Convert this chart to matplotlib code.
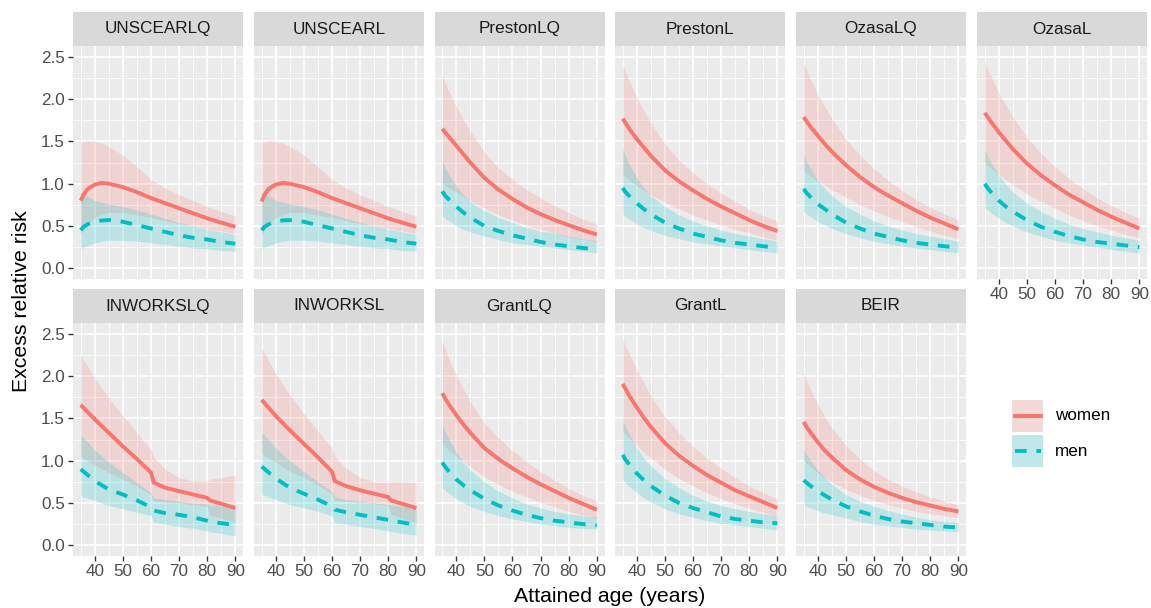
import matplotlib
matplotlib.use("Agg")
import matplotlib.pyplot as plt
from matplotlib.patches import Rectangle

plt.rcParams["font.family"] = ["Liberation Sans", "DejaVu Sans"]

# attained-age grids (INWORKS has steps at 60 and 80)
AGES = [35, 36, 37.5, 40, 42.5, 45, 50, 55, 60, 65, 70, 75, 80, 85, 90]
AGES_INWORKS = [35, 40, 45, 50, 55, 60, 61, 65, 70, 75, 80, 81, 85, 90]

MODELS = ["UNSCEARLQ", "UNSCEARL", "PrestonLQ", "PrestonL", "OzasaLQ", "OzasaL",
          "INWORKSLQ", "INWORKSL", "GrantLQ", "GrantL", "BEIR"]

WOMEN_FIT = {
    "UNSCEARLQ": [0.80, 0.87, 0.94, 0.99, 1.01, 1.00, 0.96, 0.90, 0.83, 0.77, 0.71, 0.65, 0.59, 0.54, 0.49],
    "UNSCEARL":  [0.79, 0.87, 0.94, 0.99, 1.01, 1.00, 0.96, 0.90, 0.83, 0.77, 0.71, 0.65, 0.59, 0.54, 0.49],
    "PrestonLQ": [1.65, 1.61, 1.55, 1.45, 1.35, 1.25, 1.07, 0.93, 0.82, 0.72, 0.64, 0.57, 0.51, 0.45, 0.40],
    "PrestonL":  [1.77, 1.72, 1.64, 1.53, 1.43, 1.33, 1.16, 1.03, 0.92, 0.82, 0.73, 0.65, 0.57, 0.50, 0.44],
    "OzasaLQ":   [1.79, 1.74, 1.67, 1.57, 1.47, 1.38, 1.22, 1.08, 0.96, 0.86, 0.77, 0.68, 0.60, 0.53, 0.46],
    "OzasaL":    [1.84, 1.79, 1.72, 1.61, 1.51, 1.41, 1.24, 1.10, 0.98, 0.87, 0.78, 0.69, 0.61, 0.54, 0.47],
    "INWORKSLQ": [1.66, 1.49, 1.33, 1.17, 1.02, 0.86, 0.74, 0.68, 0.64, 0.60, 0.56, 0.53, 0.49, 0.44],
    "INWORKSL":  [1.72, 1.53, 1.36, 1.20, 1.04, 0.87, 0.76, 0.70, 0.65, 0.61, 0.57, 0.53, 0.49, 0.44],
    "GrantLQ":   [1.80, 1.74, 1.66, 1.54, 1.43, 1.33, 1.15, 1.02, 0.91, 0.81, 0.72, 0.64, 0.56, 0.49, 0.42],
    "GrantL":    [1.91, 1.85, 1.76, 1.63, 1.51, 1.40, 1.21, 1.06, 0.94, 0.83, 0.74, 0.65, 0.58, 0.51, 0.44],
    "BEIR":      [1.46, 1.40, 1.33, 1.22, 1.12, 1.04, 0.89, 0.78, 0.69, 0.62, 0.56, 0.51, 0.47, 0.43, 0.40],
}
WOMEN_LO = {
    "UNSCEARLQ": [0.40, 0.45, 0.52, 0.60, 0.64, 0.66, 0.66, 0.63, 0.60, 0.56, 0.53, 0.50, 0.47, 0.44, 0.41],
    "UNSCEARL":  [0.40, 0.45, 0.52, 0.60, 0.64, 0.66, 0.66, 0.63, 0.60, 0.56, 0.53, 0.50, 0.47, 0.44, 0.41],
    "PrestonLQ": [1.00, 0.98, 0.95, 0.90, 0.85, 0.80, 0.71, 0.63, 0.57, 0.51, 0.46, 0.41, 0.37, 0.34, 0.31],
    "PrestonL":  [1.10, 1.08, 1.04, 0.98, 0.92, 0.87, 0.78, 0.70, 0.63, 0.57, 0.51, 0.46, 0.42, 0.37, 0.33],
    "OzasaLQ":   [1.15, 1.13, 1.09, 1.03, 0.98, 0.93, 0.84, 0.75, 0.68, 0.61, 0.55, 0.49, 0.44, 0.39, 0.35],
    "OzasaL":    [1.25, 1.22, 1.18, 1.11, 1.05, 0.99, 0.88, 0.79, 0.71, 0.63, 0.56, 0.50, 0.45, 0.40, 0.36],
    "INWORKSLQ": [1.05, 0.95, 0.86, 0.78, 0.70, 0.60, 0.52, 0.51, 0.50, 0.48, 0.46, 0.36, 0.32, 0.27],
    "INWORKSL":  [1.08, 0.98, 0.88, 0.80, 0.71, 0.61, 0.53, 0.52, 0.51, 0.49, 0.47, 0.37, 0.32, 0.27],
    "GrantLQ":   [1.20, 1.17, 1.12, 1.05, 0.99, 0.93, 0.81, 0.72, 0.64, 0.57, 0.51, 0.45, 0.40, 0.36, 0.32],
    "GrantL":    [1.35, 1.31, 1.26, 1.18, 1.10, 1.03, 0.90, 0.79, 0.70, 0.62, 0.55, 0.49, 0.44, 0.39, 0.34],
    "BEIR":      [1.00, 0.97, 0.93, 0.86, 0.80, 0.75, 0.66, 0.59, 0.53, 0.48, 0.44, 0.40, 0.37, 0.35, 0.33],
}
WOMEN_HI = {
    "UNSCEARLQ": [1.49, 1.50, 1.51, 1.50, 1.48, 1.44, 1.34, 1.20, 1.05, 0.95, 0.87, 0.80, 0.73, 0.67, 0.62],
    "UNSCEARL":  [1.49, 1.50, 1.51, 1.50, 1.48, 1.44, 1.34, 1.20, 1.05, 0.95, 0.87, 0.80, 0.73, 0.67, 0.62],
    "PrestonLQ": [2.29, 2.20, 2.08, 1.92, 1.76, 1.62, 1.37, 1.19, 1.05, 0.93, 0.83, 0.74, 0.66, 0.58, 0.52],
    "PrestonL":  [2.41, 2.32, 2.20, 2.02, 1.86, 1.72, 1.47, 1.28, 1.13, 1.00, 0.89, 0.79, 0.70, 0.62, 0.56],
    "OzasaLQ":   [2.43, 2.35, 2.23, 2.06, 1.91, 1.77, 1.53, 1.34, 1.18, 1.04, 0.92, 0.81, 0.72, 0.64, 0.57],
    "OzasaL":    [2.44, 2.36, 2.25, 2.08, 1.93, 1.79, 1.55, 1.36, 1.20, 1.06, 0.94, 0.83, 0.74, 0.66, 0.59],
    "INWORKSLQ": [2.25, 1.98, 1.74, 1.53, 1.33, 1.13, 1.04, 0.90, 0.80, 0.76, 0.76, 0.78, 0.80, 0.83],
    "INWORKSL":  [2.33, 2.03, 1.78, 1.56, 1.35, 1.15, 1.05, 0.91, 0.80, 0.75, 0.74, 0.75, 0.75, 0.74],
    "GrantLQ":   [2.42, 2.33, 2.20, 2.01, 1.85, 1.70, 1.45, 1.27, 1.12, 0.99, 0.87, 0.77, 0.67, 0.59, 0.52],
    "GrantL":    [2.44, 2.36, 2.25, 2.08, 1.92, 1.77, 1.52, 1.33, 1.17, 1.03, 0.91, 0.80, 0.70, 0.62, 0.55],
    "BEIR":      [2.03, 1.95, 1.84, 1.67, 1.52, 1.39, 1.18, 1.02, 0.88, 0.78, 0.70, 0.63, 0.57, 0.52, 0.48],
}
MEN_FIT = {
    "UNSCEARLQ": [0.45, 0.49, 0.52, 0.55, 0.565, 0.57, 0.55, 0.51, 0.47, 0.43, 0.39, 0.36, 0.34, 0.31, 0.29],
    "UNSCEARL":  [0.45, 0.49, 0.52, 0.55, 0.565, 0.57, 0.55, 0.51, 0.47, 0.43, 0.39, 0.36, 0.34, 0.31, 0.29],
    "PrestonLQ": [0.91, 0.86, 0.81, 0.73, 0.66, 0.60, 0.50, 0.44, 0.39, 0.35, 0.31, 0.28, 0.26, 0.24, 0.22],
    "PrestonL":  [0.95, 0.90, 0.85, 0.77, 0.70, 0.64, 0.54, 0.47, 0.41, 0.37, 0.33, 0.30, 0.28, 0.26, 0.24],
    "OzasaLQ":   [0.94, 0.89, 0.84, 0.76, 0.70, 0.64, 0.54, 0.47, 0.41, 0.37, 0.33, 0.30, 0.28, 0.26, 0.245],
    "OzasaL":    [1.00, 0.95, 0.89, 0.80, 0.73, 0.67, 0.57, 0.49, 0.43, 0.38, 0.34, 0.31, 0.29, 0.27, 0.25],
    "INWORKSLQ": [0.90, 0.76, 0.66, 0.60, 0.53, 0.45, 0.41, 0.38, 0.36, 0.33, 0.29, 0.28, 0.26, 0.24],
    "INWORKSL":  [0.93, 0.79, 0.68, 0.61, 0.54, 0.46, 0.42, 0.39, 0.36, 0.33, 0.30, 0.29, 0.27, 0.24],
    "GrantLQ":   [0.98, 0.93, 0.87, 0.78, 0.71, 0.65, 0.55, 0.47, 0.41, 0.36, 0.32, 0.29, 0.27, 0.25, 0.235],
    "GrantL":    [1.07, 1.01, 0.95, 0.85, 0.77, 0.70, 0.59, 0.50, 0.44, 0.39, 0.34, 0.31, 0.29, 0.27, 0.26],
    "BEIR":      [0.77, 0.74, 0.70, 0.64, 0.59, 0.54, 0.46, 0.40, 0.35, 0.31, 0.28, 0.26, 0.24, 0.22, 0.21],
}
MEN_LO = {
    "UNSCEARLQ": [0.23, 0.25, 0.27, 0.30, 0.32, 0.33, 0.33, 0.32, 0.30, 0.28, 0.26, 0.24, 0.23, 0.21, 0.20],
    "UNSCEARL":  [0.23, 0.25, 0.27, 0.30, 0.32, 0.33, 0.33, 0.32, 0.30, 0.28, 0.26, 0.24, 0.23, 0.21, 0.20],
    "PrestonLQ": [0.62, 0.59, 0.56, 0.50, 0.46, 0.43, 0.38, 0.34, 0.30, 0.28, 0.26, 0.24, 0.22, 0.20, 0.18],
    "PrestonL":  [0.64, 0.61, 0.58, 0.52, 0.48, 0.45, 0.39, 0.35, 0.31, 0.29, 0.26, 0.24, 0.22, 0.20, 0.18],
    "OzasaLQ":   [0.67, 0.64, 0.61, 0.55, 0.51, 0.47, 0.41, 0.36, 0.32, 0.29, 0.26, 0.24, 0.22, 0.20, 0.18],
    "OzasaL":    [0.72, 0.69, 0.65, 0.59, 0.54, 0.50, 0.43, 0.38, 0.33, 0.30, 0.27, 0.25, 0.22, 0.20, 0.18],
    "INWORKSLQ": [0.58, 0.53, 0.47, 0.43, 0.39, 0.35, 0.27, 0.25, 0.22, 0.20, 0.17, 0.16, 0.14, 0.11],
    "INWORKSL":  [0.60, 0.54, 0.48, 0.44, 0.40, 0.35, 0.27, 0.25, 0.22, 0.20, 0.17, 0.16, 0.14, 0.12],
    "GrantLQ":   [0.68, 0.65, 0.61, 0.55, 0.50, 0.46, 0.40, 0.35, 0.31, 0.28, 0.25, 0.23, 0.21, 0.20, 0.19],
    "GrantL":    [0.78, 0.74, 0.69, 0.62, 0.56, 0.51, 0.43, 0.37, 0.33, 0.29, 0.26, 0.24, 0.22, 0.20, 0.18],
    "BEIR":      [0.48, 0.46, 0.44, 0.41, 0.38, 0.36, 0.32, 0.28, 0.25, 0.23, 0.21, 0.19, 0.18, 0.17, 0.16],
}
MEN_HI = {
    "UNSCEARLQ": [0.90, 0.88, 0.85, 0.80, 0.78, 0.76, 0.73, 0.69, 0.64, 0.59, 0.54, 0.50, 0.46, 0.43, 0.40],
    "UNSCEARL":  [0.90, 0.88, 0.85, 0.80, 0.78, 0.76, 0.73, 0.69, 0.64, 0.59, 0.54, 0.50, 0.46, 0.43, 0.40],
    "PrestonLQ": [1.27, 1.19, 1.10, 0.97, 0.87, 0.79, 0.68, 0.60, 0.54, 0.48, 0.44, 0.41, 0.38, 0.35, 0.32],
    "PrestonL":  [1.41, 1.32, 1.22, 1.07, 0.95, 0.86, 0.73, 0.63, 0.56, 0.50, 0.45, 0.41, 0.38, 0.35, 0.32],
    "OzasaLQ":   [1.34, 1.26, 1.17, 1.04, 0.94, 0.86, 0.73, 0.64, 0.56, 0.50, 0.45, 0.41, 0.38, 0.35, 0.32],
    "OzasaL":    [1.40, 1.32, 1.23, 1.10, 0.99, 0.90, 0.77, 0.67, 0.59, 0.52, 0.47, 0.43, 0.39, 0.36, 0.33],
    "INWORKSLQ": [1.31, 1.13, 0.98, 0.86, 0.74, 0.62, 0.56, 0.54, 0.52, 0.50, 0.49, 0.47, 0.46, 0.45],
    "INWORKSL":  [1.34, 1.15, 1.00, 0.87, 0.75, 0.63, 0.57, 0.54, 0.52, 0.50, 0.48, 0.47, 0.46, 0.45],
    "GrantLQ":   [1.44, 1.35, 1.25, 1.10, 0.98, 0.89, 0.75, 0.64, 0.56, 0.49, 0.44, 0.40, 0.37, 0.35, 0.33],
    "GrantL":    [1.48, 1.40, 1.30, 1.15, 1.03, 0.94, 0.79, 0.68, 0.59, 0.52, 0.47, 0.43, 0.40, 0.37, 0.35],
    "BEIR":      [1.13, 1.07, 1.00, 0.89, 0.80, 0.72, 0.60, 0.52, 0.46, 0.41, 0.37, 0.33, 0.30, 0.28, 0.27],
}

X_TICKS = [40, 50, 60, 70, 80, 90]
X_MINOR = [35, 45, 55, 65, 75, 85]
Y_TICKS = [0.0, 0.5, 1.0, 1.5, 2.0, 2.5]
Y_MINOR = [0.25, 0.75, 1.25, 1.75, 2.25]

RED, TEAL = "#F8766D", "#00BFC4"
W, H = 1151, 608
COL_X = [73, 254, 434.5, 615, 796, 977]
ROW_Y = [46, 323]
PW, PH, STRIP = 170, 233, 34
SMALL = 12.3


def px_axes(fig, x, y, w, h):
    return fig.add_axes([x / W, 1 - (y + h) / H, w / W, h / H])


fig = plt.figure(figsize=(W / 100, H / 100), dpi=100)

for i, name in enumerate(MODELS):
    r, c = divmod(i, 6)
    x0, y0 = COL_X[c], ROW_Y[r]
    ages = AGES_INWORKS if name.startswith("INWORKS") else AGES

    ax = px_axes(fig, x0, y0, PW, PH)
    ax.set_facecolor("#EBEBEB")
    for s in ax.spines.values():
        s.set_visible(False)
    ax.set_xlim(32.25, 92.75)
    ax.set_ylim(-0.128, 2.63)
    ax.set_xticks(X_TICKS)
    ax.set_xticks(X_MINOR, minor=True)
    ax.set_yticks(Y_TICKS)
    ax.set_yticks(Y_MINOR, minor=True)
    ax.set_yticklabels([f"{v:.1f}" for v in Y_TICKS])
    ax.grid(which="major", color="white", lw=1.2)
    ax.grid(which="minor", color="white", lw=0.6)
    ax.set_axisbelow(True)

    show_x = r == 1 or i == 5
    show_y = c == 0
    ax.tick_params(which="minor", length=0)
    ax.tick_params(which="major", length=3.5, width=1, color="#333333",
                   labelsize=SMALL, labelcolor="#4D4D4D", pad=2.5)
    ax.tick_params(axis="x", bottom=show_x, labelbottom=show_x)
    ax.tick_params(axis="y", left=show_y, labelleft=show_y)

    ax.fill_between(ages, WOMEN_LO[name], WOMEN_HI[name], color=RED, alpha=0.2, lw=0)
    ax.fill_between(ages, MEN_LO[name], MEN_HI[name], color=TEAL, alpha=0.2, lw=0)
    ax.plot(ages, WOMEN_FIT[name], color=RED, lw=2.8, solid_capstyle="butt")
    ax.plot(ages, MEN_FIT[name], color=TEAL, lw=2.8, dashes=(3, 2.5))

    st = px_axes(fig, x0, y0 - STRIP, PW, STRIP)
    st.set_facecolor("#D9D9D9")
    st.set_xticks([]); st.set_yticks([])
    for s in st.spines.values():
        s.set_visible(False)
    st.text(0.5, 0.5, name, ha="center", va="center", fontsize=SMALL,
            color="#1A1A1A", transform=st.transAxes)

# axis titles
fig.text(22 / W, 1 - 301 / H, "Excess relative risk", rotation=90,
         ha="center", va="center", fontsize=15.3)
fig.text(610 / W, 1 - 597 / H, "Attained age (years)",
         ha="center", va="center", fontsize=15.3)

# legend
lg = px_axes(fig, 1000, 390, 130, 90)
lg.set_xlim(1000, 1130)
lg.set_ylim(480, 390)
lg.axis("off")
keys = [("women", RED, "-", 400), ("men", TEAL, "--", 435)]
for label, col, ls, ky in keys:
    lg.add_patch(Rectangle((1012, ky), 31, 32, facecolor="#F2F2F2", lw=0))
    lg.add_patch(Rectangle((1012, ky), 31, 32, facecolor=col, alpha=0.2, lw=0))
    if ls == "-":
        lg.plot([1015, 1041], [ky + 16, ky + 16], color=col, lw=2.8)
    else:
        lg.plot([1015, 1041], [ky + 16, ky + 16], color=col, lw=2.8, dashes=(3, 2.5))
    lg.text(1055, ky + 16, label, ha="left", va="center", fontsize=SMALL, color="black")

fig.savefig("out.png", dpi=100)
